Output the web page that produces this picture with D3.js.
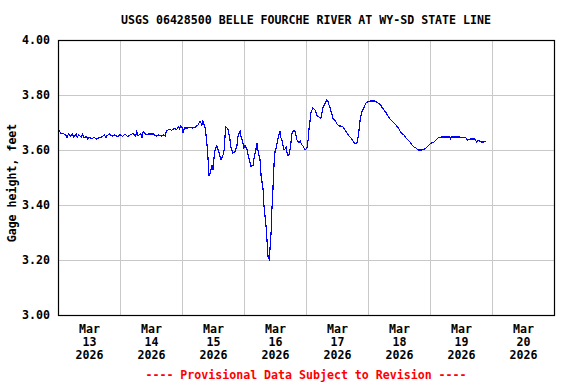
<!DOCTYPE html>
<html>
<head>
<meta charset="utf-8">
<script src="https://cdn.jsdelivr.net/npm/d3@7"></script>
<style>
  body { margin: 0; background: #fff; }
  svg text { font-family: "DejaVu Sans Mono", "Liberation Mono", monospace; font-weight: bold; font-size: 11.6px; }
</style>
</head>
<body>
<svg id="chart" width="576" height="384"></svg>
<script>
// Hours since Mar 13 2026 00:00 and gage height (feet)
const hours = [
  0, 0.5, 1, 2, 3, 3.5, 4, 5, 5.5, 6, 7, 7.5, 8, 9, 9.5, 10, 11, 11.5, 12, 13,
  14, 15, 16, 17, 18, 18.5, 19, 20, 21, 22, 23, 24, 25, 26, 27, 28, 29, 30, 30.5, 31,
  32, 32.5, 33, 34, 35, 36, 37, 38, 39, 40, 41, 41.5, 42, 43, 44, 45, 46, 46.5, 47, 47.5,
  48, 48.4, 49, 50, 51, 52, 53, 54.2, 55.0, 55.7, 56.1, 56.9, 57.3, 57.7, 58.1, 58.5, 58.8, 59.6, 60.0, 60.4,
  60.8, 61.5, 62.3, 63.1, 63.9, 64.3, 64.6, 65.0, 65.8, 66.2, 66.6, 67.0, 67.7, 68.5, 69.3, 69.7, 70.5, 70.8, 71.6, 72.0,
  72.4, 73.2, 73.9, 74.7, 75.5, 75.9, 76.6, 77.0, 77.4, 78.2, 78.6, 79.4, 79.7, 80.1, 80.5, 80.9, 81.3, 81.7, 82.1, 82.5,
  82.8, 83.2, 83.6, 84.0, 84.4, 84.8, 85.2, 85.5, 85.9, 86.3, 86.7, 87.1, 87.5, 87.9, 88.3, 88.6, 89.0, 89.4, 89.8, 90.2,
  90.6, 91.0, 91.7, 92.1, 92.5, 93.3, 93.7, 94.1, 94.5, 94.8, 95.6, 96.4, 96.8, 97.2, 97.5, 97.9, 98.3, 98.7, 99.5, 100.3,
  101.0, 101.8, 102.2, 102.6, 103.4, 104.1, 104.5, 104.9, 105.3, 106.1, 106.5, 107.2, 108.0, 108.8, 109.6, 110.3, 111.1, 111.9, 112.6, 113.4,
  114.2, 115.0, 115.7, 116.1, 116.5, 116.9, 117.3, 117.7, 118.5, 119.2, 120.0, 120.8, 121.5, 122.7, 123.9, 124.6, 125.4, 126.2, 127.0, 127.7,
  128.5, 129.7, 130.8, 132.0, 132.8, 133.9, 134.7, 135.5, 136.3, 137.0, 137.8, 138.6, 139.4, 140.9, 142.1, 142.8, 143.6, 144.4, 145.5, 146.3,
  147.1, 148.3, 149.4, 151.7, 152.0, 152.3, 155.6, 157.9, 158.5, 159.5, 161.4, 162.0, 162.6, 163.7, 164.9, 165.7
];
const heights = [
  3.662, 3.670, 3.662, 3.660, 3.655, 3.645, 3.658, 3.650, 3.660, 3.648, 3.658, 3.646, 3.655, 3.648, 3.658, 3.645, 3.648, 3.640, 3.645, 3.642,
  3.645, 3.640, 3.645, 3.648, 3.655, 3.645, 3.652, 3.658, 3.650, 3.655, 3.648, 3.655, 3.650, 3.658, 3.648, 3.655, 3.660, 3.650, 3.668, 3.652,
  3.660, 3.645, 3.668, 3.655, 3.658, 3.658, 3.658, 3.650, 3.655, 3.650, 3.655, 3.650, 3.670, 3.675, 3.672, 3.678, 3.675, 3.685, 3.678, 3.688,
  3.684, 3.662, 3.680, 3.680, 3.682, 3.680, 3.682, 3.691, 3.705, 3.691, 3.705, 3.684, 3.655, 3.618, 3.564, 3.505, 3.513, 3.545, 3.527, 3.571,
  3.600, 3.615, 3.593, 3.564, 3.582, 3.600, 3.644, 3.684, 3.676, 3.655, 3.636, 3.607, 3.589, 3.593, 3.618, 3.651, 3.669, 3.651, 3.625, 3.607,
  3.618, 3.600, 3.571, 3.540, 3.545, 3.571, 3.600, 3.625, 3.600, 3.564, 3.509, 3.455, 3.400, 3.364, 3.327, 3.273, 3.211, 3.203, 3.244, 3.302,
  3.382, 3.455, 3.545, 3.593, 3.607, 3.625, 3.644, 3.655, 3.669, 3.644, 3.636, 3.618, 3.600, 3.604, 3.611, 3.593, 3.582, 3.582, 3.600, 3.629,
  3.662, 3.669, 3.669, 3.655, 3.636, 3.625, 3.633, 3.625, 3.618, 3.615, 3.600, 3.607, 3.636, 3.680, 3.702, 3.735, 3.745, 3.753, 3.745, 3.724,
  3.720, 3.716, 3.735, 3.756, 3.771, 3.782, 3.778, 3.764, 3.753, 3.727, 3.713, 3.709, 3.695, 3.687, 3.687, 3.684, 3.673, 3.662, 3.651, 3.644,
  3.633, 3.622, 3.625, 3.644, 3.669, 3.705, 3.727, 3.742, 3.756, 3.771, 3.775, 3.778, 3.778, 3.778, 3.771, 3.767, 3.756, 3.745, 3.735, 3.724,
  3.713, 3.702, 3.691, 3.676, 3.662, 3.655, 3.644, 3.636, 3.629, 3.618, 3.611, 3.607, 3.600, 3.600, 3.604, 3.611, 3.618, 3.625, 3.629, 3.636,
  3.644, 3.647, 3.647, 3.647, 3.640, 3.647, 3.647, 3.644, 3.636, 3.640, 3.640, 3.630, 3.636, 3.629, 3.629, 3.633
];
const yTicks = [3.0, 3.2, 3.4, 3.6, 3.8, 4.0];
const dayLabels = ["13", "14", "15", "16", "17", "18", "19", "20"];
const monthLabel = "Mar";
const yearLabel = "2026";

const title = "USGS 06428500 BELLE FOURCHE RIVER AT WY-SD STATE LINE";
const yTitle = "Gage height, feet";
const footer = "---- Provisional Data Subject to Revision ----";

const plotLeft = 58, plotRight = 554, plotTop = 40, plotBottom = 315;
const start = new Date(2026, 2, 13);
const end = new Date(2026, 2, 21);

const svg = d3.select("#chart");

let xScale = d3.scaleTime()
    .domain([start, end])
    .range([plotLeft, plotRight]);

let yScale = d3.scaleLinear()
    .domain([3.0, 4.0])
    .range([plotBottom, plotTop]);

const data = hours.map((h, i) => ({
    date: new Date(start.getTime() + h * 3600000),
    value: heights[i]
}));

// Grid lines
const dayBounds = d3.timeDay.range(start, end).slice(1);
svg.append("g")
    .selectAll("line")
    .data(dayBounds)
    .join("line")
    .attr("x1", d => Math.round(xScale(d)) + 0.5)
    .attr("x2", d => Math.round(xScale(d)) + 0.5)
    .attr("y1", plotTop)
    .attr("y2", plotBottom)
    .attr("stroke", "#c8c8c8");

svg.append("g")
    .selectAll("line")
    .data(yTicks.slice(1, -1))
    .join("line")
    .attr("x1", plotLeft)
    .attr("x2", plotRight)
    .attr("y1", d => Math.round(yScale(d)) + 0.5)
    .attr("y2", d => Math.round(yScale(d)) + 0.5)
    .attr("stroke", "#c8c8c8");

// Data line
const line = d3.line()
    .x(d => xScale(d.date))
    .y(d => yScale(d.value));

svg.append("path")
    .datum(data)
    .attr("d", line)
    .attr("fill", "none")
    .attr("stroke", "#0000ff")
    .attr("stroke-width", 1.2)
    .attr("shape-rendering", "crispEdges");

// Frame
svg.append("rect")
    .attr("x", plotLeft + 0.5)
    .attr("y", plotTop + 0.5)
    .attr("width", plotRight - plotLeft)
    .attr("height", plotBottom - plotTop)
    .attr("fill", "none")
    .attr("stroke", "#000")
    .attr("stroke-width", 1.2);

// Y axis
const yAxis = d3.axisLeft(yScale)
    .tickValues(yTicks)
    .tickFormat(d3.format(".2f"))
    .tickSize(0)
    .tickPadding(8);

svg.append("g")
    .attr("transform", `translate(${plotLeft},0)`)
    .call(yAxis)
    .call(g => g.select(".domain").remove())
    .call(g => g.attr("font-family", null).attr("font-size", null))
    .selectAll("text")
    .attr("fill", "#000");

// X axis (labels at noon of each day)
const noons = dayLabels.map((d, i) => d3.timeHour.offset(d3.timeDay.offset(start, i), 12));
const xAxis = d3.axisBottom(xScale)
    .tickValues(noons)
    .tickSize(0)
    .tickFormat(() => "");

const xg = svg.append("g")
    .attr("transform", `translate(0,${plotBottom})`)
    .call(xAxis)
    .call(g => g.attr("font-family", null).attr("font-size", null));
xg.select(".domain").remove();
xg.selectAll(".tick text").remove();
xg.selectAll(".tick")
    .each(function(d, i) {
        const t = d3.select(this).append("text")
            .attr("text-anchor", "middle")
            .attr("fill", "#000");
        [monthLabel, dayLabels[i], yearLabel].forEach((s, k) => {
            t.append("tspan")
                .attr("x", 0)
                .attr("y", 18 + k * 13)
                .text(s);
        });
    });

// Titles
svg.append("text")
    .attr("x", 306)
    .attr("y", 24)
    .attr("text-anchor", "middle")
    .text(title);

svg.append("text")
    .attr("transform", "translate(16,183) rotate(-90)")
    .attr("text-anchor", "middle")
    .text(yTitle);

svg.append("text")
    .attr("x", 306)
    .attr("y", 379)
    .attr("text-anchor", "middle")
    .attr("fill", "#ff0000")
    .text(footer);
</script>
</body>
</html>
